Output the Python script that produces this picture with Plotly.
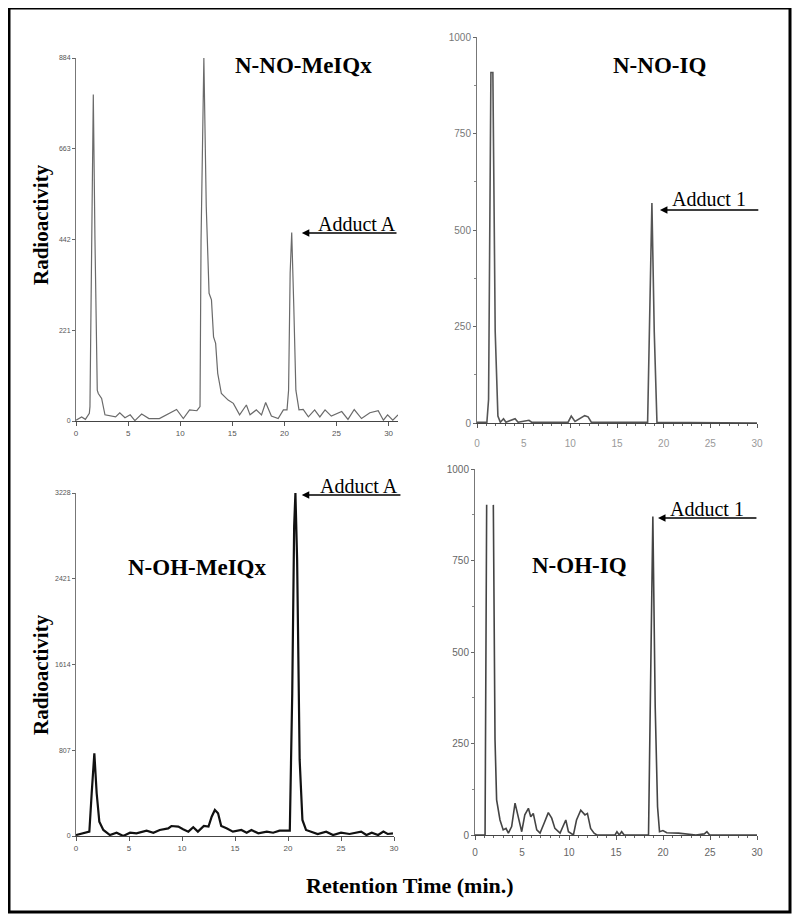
import plotly.graph_objects as go

# N-NO-MeIQx chromatogram (top left)
no_meiqx_t = [0, 0.54, 0.9, 1.28, 1.34, 1.5, 1.66, 1.82, 2.04, 2.14, 2.46, 2.78, 3.3, 3.8,
              4.2, 4.7, 5.2, 5.65, 6.3, 7.0, 8.0, 8.7, 9.65, 10.3, 10.9, 11.6, 11.9, 12.0,
              12.27, 12.5, 12.77, 13.0, 13.2, 13.4, 13.6, 13.95, 14.6, 15.1, 15.7, 16.35,
              16.7, 17.3, 17.8, 18.2, 18.75, 19.4, 19.9, 20.25, 20.4, 20.55, 20.7, 20.9,
              21.1, 21.4, 21.8, 22.3, 22.9, 23.4, 23.9, 24.5, 25.5, 26.1, 26.7, 27.4, 28.2,
              29.0, 29.5, 29.9, 30.4, 30.9]
no_meiqx_y = [2, 10, 4, 19, 35, 522, 795, 441, 75, 67, 55, 15, 12, 10,
              20, 8, 15, 1, 17, 6, 6, 15, 28, 6, 27, 25, 35, 441,
              884, 522, 311, 295, 205, 189, 116, 67, 51, 43, 15, 39,
              15, 27, 15, 45, 12, 6, 27, 27, 75, 360, 459, 279,
              75, 27, 28, 10, 27, 10, 27, 12, 23, 4, 28, 6, 20,
              25, 2, 15, 2, 15]

# N-NO-IQ chromatogram (top right)
no_iq_t = [0, 1.06, 1.24, 1.49, 1.7, 1.95, 2.24, 2.5, 2.84, 3.1, 4.08, 4.4, 5.57, 5.85,
           9.76, 10.1, 10.5, 11.0, 11.54, 11.9, 12.25, 18.28, 18.57, 18.74, 18.99, 19.28, 30]
no_iq_y = [2, 2, 61, 908, 908, 237, 18, 2, 11, 2, 11, 2, 7, 2,
           2, 18, 4, 11, 19, 16, 2, 2, 325, 570, 237, 2, 0]

# N-OH-MeIQx chromatogram (bottom left)
oh_meiqx_t = [0, 0.7, 1.26, 1.48, 1.73, 1.95, 2.2, 2.58, 3.2, 3.83, 4.46, 5.1, 5.7, 6.66,
              7.3, 7.9, 8.7, 9.0, 9.65, 10.1, 10.6, 11.06, 11.5, 12.06, 12.5, 12.8, 13.1,
              13.4, 13.7, 14.2, 14.8, 15.6, 16.1, 16.55, 17.2, 18.0, 18.6, 19.2, 20.17,
              20.4, 20.58, 20.7, 20.86, 21.1, 21.36, 21.7, 22.4, 22.8, 23.6, 24.25, 25.0,
              25.8, 26.9, 27.4, 27.9, 28.5, 29.0, 29.4, 29.9]
oh_meiqx_y = [9, 25, 41, 402, 779, 402, 135, 57, 9, 31, 0, 31, 25, 50,
              31, 57, 72, 94, 88, 63, 41, 82, 41, 94, 88, 182, 245,
              214, 94, 72, 41, 57, 31, 57, 25, 41, 31, 50, 50,
              1344, 2914, 3228, 2600, 716, 151, 57, 31, 19, 41, 9, 31,
              19, 41, 9, 31, 9, 41, 19, 25]

# N-OH-IQ chromatogram (bottom right); first peak runs off scale (gap)
oh_iq_t = [0, 1.07, 1.24, None, 1.95, 2.13, 2.3, 2.66, 3.0, 3.3, 3.55, 3.9, 4.26, 4.6,
           4.97, 5.3, 5.68, 5.93, 6.2, 6.57, 6.92, 7.35, 7.8, 8.16, 8.5, 9.05, 9.66,
           9.94, 10.47, 10.8, 11.25, 11.7, 11.96, 12.3, 12.67, 12.96, 14.9, 15.1, 15.35,
           15.6, 15.87, 18.46, 18.7, 18.92, 19.17, 19.42, 19.63, 19.99, 20.4, 21.1, 21.65,
           23.5, 24.4, 24.67, 24.96, 30]
oh_iq_y = [0, 0, 902, None, 902, 260, 96, 41, 14, 18, 5, 23, 87, 50,
           9, 55, 73, 50, 59, 14, 5, 32, 61, 46, 18, 5, 41,
           9, 0, 41, 68, 55, 59, 18, 5, 0, 0, 9, 0,
           9, 0, 0, 533, 870, 351, 77, 9, 12, 6, 5, 5,
           0, 3, 9, 0, 0]

meiqx_top_ticks = [0, 221, 442, 663, 884]
meiqx_bot_ticks = [0, 807, 1614, 2421, 3228]
iq_ticks = [0, 250, 500, 750, 1000]
time_ticks = [0, 5, 10, 15, 20, 25, 30]

W, H = 800, 921
OFF = 8  # page body margin pushes the plot 8px right/down
SERIF = "Liberation Serif, Times New Roman, serif"
NARROW = "Liberation Sans Narrow, Arial Narrow, Liberation Sans, sans-serif"


def fx(x):
    return (x - OFF) / W


def fy(y):
    return 1 - (y - OFF) / H


def label(text, x, y, size, angle=0):
    fig.add_annotation(text=text, x=fx(x), y=fy(y), xref="paper", yref="paper",
                       xanchor="center", yanchor="middle", showarrow=False,
                       textangle=angle, font=dict(family=SERIF, size=size, color="black"))


fig = go.Figure()
fig.add_trace(go.Scatter(x=no_meiqx_t, y=no_meiqx_y, mode="lines",
                         line=dict(color="#6a6a6a", width=1.2), xaxis="x", yaxis="y"))
fig.add_trace(go.Scatter(x=no_iq_t, y=no_iq_y, mode="lines",
                         line=dict(color="#555555", width=1.6), xaxis="x2", yaxis="y2"))
fig.add_trace(go.Scatter(x=oh_meiqx_t, y=oh_meiqx_y, mode="lines",
                         line=dict(color="#111111", width=2.2), xaxis="x3", yaxis="y3"))
fig.add_trace(go.Scatter(x=oh_iq_t, y=oh_iq_y, mode="lines", connectgaps=False,
                         line=dict(color="#444444", width=1.6), xaxis="x4", yaxis="y4"))


def xax(d0, d1, rng, anchor, size, color, minor=False, standoff=0):
    a = dict(domain=[fx(d0), fx(d1)], range=rng, anchor=anchor, tickvals=time_ticks,
             automargin=False, ticklabelstandoff=standoff,
             showgrid=False, zeroline=False, showline=True, linecolor="#444", linewidth=1,
             ticks="outside", ticklen=4, tickcolor="#555",
             tickfont=dict(family=NARROW, size=size, color=color))
    if minor:
        a["minor"] = dict(dtick=1, ticks="outside", ticklen=2, tickcolor="#666")
    return a


def yax(top, bottom, rng, ticks, anchor, size, color, minor=None):
    a = dict(domain=[fy(bottom), fy(top)], range=rng, anchor=anchor, tickvals=ticks,
             automargin=False,
             showgrid=False, zeroline=False, showline=True, linecolor="#777", linewidth=1,
             ticks="outside", ticklen=3, tickcolor="#666",
             tickfont=dict(family=NARROW, size=size, color=color))
    if minor:
        a["minor"] = dict(dtick=minor, ticks="outside", ticklen=2, tickcolor="#888")
    return a


fig.update_layout(
    width=W, height=H, margin=dict(l=0, r=0, t=0, b=0, pad=0),
    paper_bgcolor="white", plot_bgcolor="white", showlegend=False,
    xaxis=xax(76, 398, [0, 30.9], "y", 8, "#555"),
    yaxis=yax(58, 421, [0, 884], meiqx_top_ticks, "x", 7, "#555"),
    xaxis2=xax(477, 757, [0, 30], "y2", 10, "#999", minor=True, standoff=7),
    yaxis2=yax(37, 423, [0, 1000], iq_ticks, "x2", 10, "#777", minor=125),
    xaxis3=xax(76, 394, [0, 30], "y3", 8, "#555"),
    yaxis3=yax(493, 836, [0, 3228], meiqx_bot_ticks, "x3", 7, "#555"),
    xaxis4=xax(475, 757, [0, 30], "y4", 10, "#666", minor=True, standoff=4),
    yaxis4=yax(469, 835, [0, 1000], iq_ticks, "x4", 10, "#666", minor=125),
)

# outer frame
fig.add_shape(type="rect", xref="paper", yref="paper",
              x0=fx(9), x1=fx(790), y0=fy(912), y1=fy(8),
              line=dict(color="black", width=3))

titles = [("N-NO-MeIQx", 303, 65), ("N-NO-IQ", 659, 65),
          ("N-OH-MeIQx", 197, 567), ("N-OH-IQ", 579, 565)]
for txt, x, y in titles:
    label("<b>%s</b>" % txt, x, y, 23)

# adduct labels and arrows
adducts = [("Adduct A", 357, 224, "x", "y", 21.67, 458, 30.9),
           ("Adduct 1", 709, 199, "x2", "y2", 19.6, 552, 30.3),
           ("Adduct A", 359, 486, "x3", "y3", 21.3, 3209, 30.75),
           ("Adduct 1", 707, 509, "x4", "y4", 19.47, 866, 30.1)]
for txt, x, y, xr, yr, tip_x, tip_y, tail_x in adducts:
    label(txt, x, y, 20)
    fig.add_annotation(text="", x=tip_x, y=tip_y, xref=xr, yref=yr,
                       ax=tail_x, ay=tip_y, axref=xr, ayref=yr,
                       showarrow=True, arrowhead=2, arrowsize=1, arrowwidth=1.5,
                       arrowcolor="black")

for y in (225, 675):
    label("<b>Radioactivity</b>", 41, y, 21, angle=-90)

label("<b>Retention Time (min.)</b>", 410, 885, 22)

fig.write_html("out.html")
